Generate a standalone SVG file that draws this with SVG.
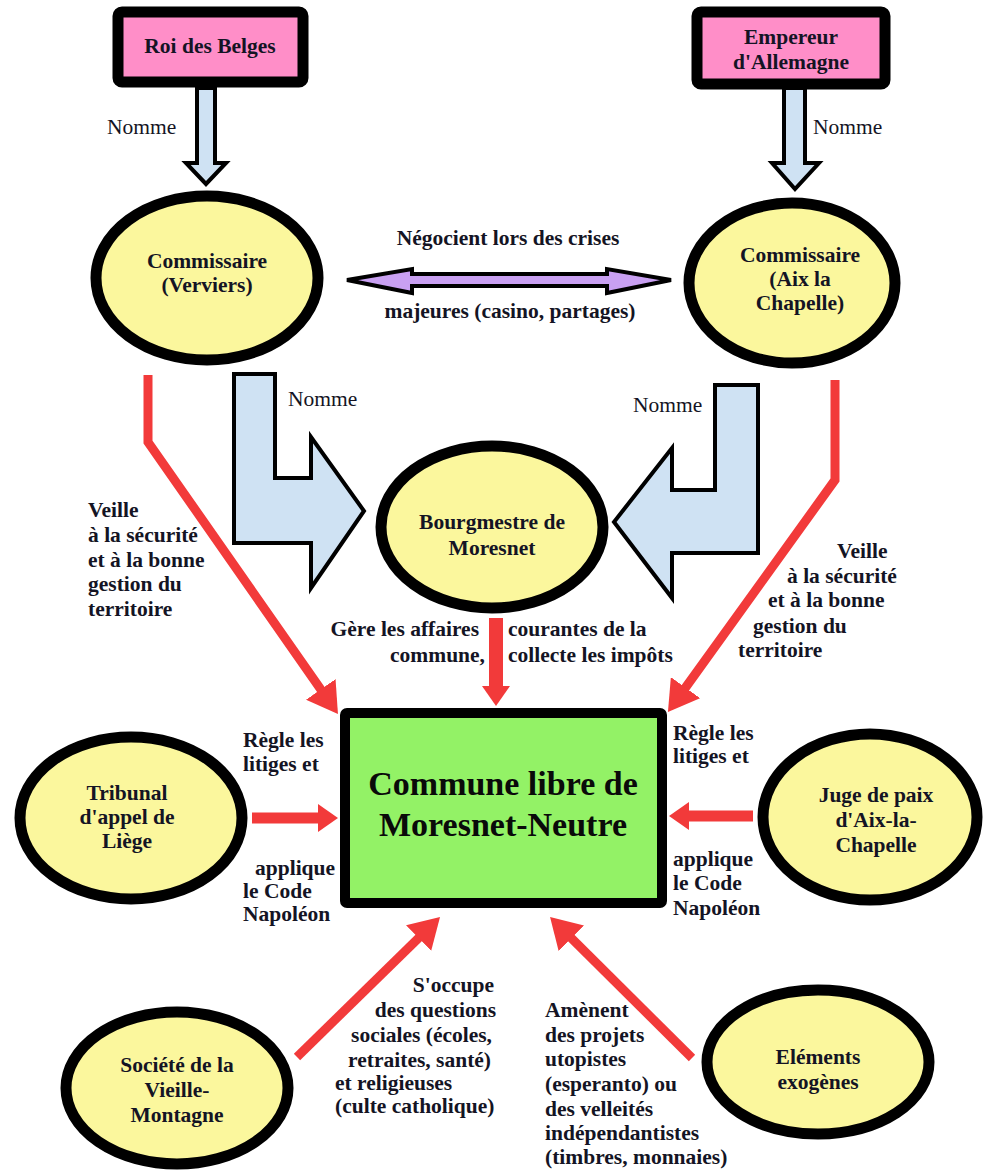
<svg xmlns="http://www.w3.org/2000/svg" width="984" height="1175" viewBox="0 0 984 1175">
<defs>
<style>
.t{font-family:"Liberation Serif","Times New Roman",serif;font-weight:bold;font-size:21.5px;fill:#141424}
.r{font-family:"Liberation Serif","Times New Roman",serif;font-size:21.5px;fill:#141424}
.m{text-anchor:middle}
.e{text-anchor:end}
.title{font-family:"Liberation Serif","Times New Roman",serif;font-weight:bold;font-size:34px;fill:#0a0a0a;text-anchor:middle}
.ell{fill:#fbf79d;stroke:#000;stroke-width:11}
.box{fill:#ff8ec8;stroke:#000;stroke-width:11}
.blue{fill:#cfe2f3;stroke:#000;stroke-width:4;stroke-linejoin:miter}
.red{fill:none;stroke:#f23a3a;stroke-linejoin:miter}
</style>
<marker id="hb" viewBox="0 0 30 36" markerWidth="30" markerHeight="36" refX="14" refY="18" orient="auto" markerUnits="userSpaceOnUse">
<path d="M0,0 L30,18 L0,36 z" fill="#f23a3a"/>
</marker>
<marker id="hs" viewBox="0 0 20 28" markerWidth="20" markerHeight="28" refX="8" refY="14" orient="auto" markerUnits="userSpaceOnUse">
<path d="M0,0 L20,14 L0,28 z" fill="#f23a3a"/>
</marker>
</defs>
<rect width="984" height="1175" fill="#fff"/>

<g id="connectors">
<polygon class="blue" points="197,88 215,88 215,163 226,163 206,184 186,163 197,163"/>
<polygon class="blue" points="784,88 805,88 805,163 819,163 795,189 772,163 784,163"/>
<polygon points="347,280 412,269 412,274 607,274 607,269 671,280 607,293 607,286 412,286 412,293" fill="#c9a0f2" stroke="#000" stroke-width="4"/>
<polygon class="blue" points="234,374 275,374 275,478 311,478 311,437 364,511 311,588 311,543 234,543"/>
<polygon class="blue" points="758,385 715,385 715,490 672,490 672,448 614,522 672,598 672,553 758,553"/>
<polyline class="red" stroke-width="9" points="148,375 148,442 328.8,700.9" marker-end="url(#hb)"/>
<polyline class="red" stroke-width="9" points="835,380 835,480 677.3,699" marker-end="url(#hb)"/>
<line class="red" stroke-width="14" x1="496" y1="618" x2="496" y2="694" marker-end="url(#hs)"/>
<line class="red" stroke-width="11" x1="252" y1="818" x2="326" y2="818" marker-end="url(#hs)"/>
<line class="red" stroke-width="11" x1="753" y1="816" x2="681" y2="816" marker-end="url(#hs)"/>
<line class="red" stroke-width="9" x1="297" y1="1057" x2="428.6" y2="928.2" marker-end="url(#hb)"/>
<line class="red" stroke-width="9" x1="692" y1="1058" x2="561.4" y2="928.3" marker-end="url(#hb)"/>
</g>

<g id="labels">
<text class="r" x="107" y="134">Nomme</text>
<text class="r" x="813" y="134">Nomme</text>
<text class="t m" x="508" y="245">Négocient lors des crises</text>
<text class="t m" x="510" y="318">majeures (casino, partages)</text>
<text class="r" x="288" y="406">Nomme</text>
<text class="r" x="633" y="412">Nomme</text>
<text class="t" x="88" y="517">Veille</text>
<text class="t" x="88" y="542">à la sécurité</text>
<text class="t" x="88" y="567">et à la bonne</text>
<text class="t" x="88" y="591">gestion du</text>
<text class="t" x="88" y="616">territoire</text>
<text class="t" x="837" y="558">Veille</text>
<text class="t" x="787" y="583">à la sécurité</text>
<text class="t" x="768" y="607">et à la bonne</text>
<text class="t" x="753" y="633">gestion du</text>
<text class="t" x="738" y="657">territoire</text>
<text class="t e" x="479" y="636">Gère les affaires</text>
<text class="t e" x="485" y="662">commune,</text>
<text class="t" x="508" y="636">courantes de la</text>
<text class="t" x="508" y="662">collecte les impôts</text>
<text class="t" x="243" y="747">Règle les</text>
<text class="t" x="243" y="771">litiges et</text>
<text class="t" x="255" y="875">applique</text>
<text class="t" x="243" y="898">le Code</text>
<text class="t" x="243" y="921">Napoléon</text>
<text class="t" x="673" y="740">Règle les</text>
<text class="t" x="673" y="763">litiges et</text>
<text class="t" x="673" y="866">applique</text>
<text class="t" x="673" y="890">le Code</text>
<text class="t" x="673" y="915">Napoléon</text>
<text class="t e" x="494" y="992">S'occupe</text>
<text class="t e" x="496" y="1017">des questions</text>
<text class="t e" x="492" y="1042">sociales (écoles,</text>
<text class="t e" x="491" y="1067">retraites, santé)</text>
<text class="t" x="335" y="1090">et religieuses</text>
<text class="t" x="335" y="1113">(culte catholique)</text>
<text class="t" x="545" y="1017">Amènent</text>
<text class="t" x="545" y="1042">des projets</text>
<text class="t" x="545" y="1066">utopistes</text>
<text class="t" x="545" y="1091">(esperanto) ou</text>
<text class="t" x="545" y="1116">des velleités</text>
<text class="t" x="545" y="1140">indépendantistes</text>
<text class="t" x="545" y="1164">(timbres, monnaies)</text>
</g>

<g id="roi">
<rect class="box" x="118" y="12" width="185" height="70" rx="4"/>
<text class="t m" x="210" y="53">Roi des Belges</text>
</g>
<g id="empereur">
<rect class="box" x="697" y="12" width="188" height="72" rx="4"/>
<text class="t m" x="791" y="44">Empereur</text>
<text class="t m" x="791" y="69">d'Allemagne</text>
</g>
<g id="commissaire-verviers">
<ellipse class="ell" cx="207" cy="278" rx="111" ry="82"/>
<text class="t m" x="207" y="268">Commissaire</text>
<text class="t m" x="207" y="292">(Verviers)</text>
</g>
<g id="commissaire-aix">
<ellipse class="ell" cx="792" cy="283" rx="103" ry="80"/>
<text class="t m" x="800" y="262">Commissaire</text>
<text class="t m" x="800" y="286">(Aix la</text>
<text class="t m" x="800" y="310">Chapelle)</text>
</g>
<g id="bourgmestre">
<ellipse class="ell" cx="492" cy="527" rx="111" ry="81"/>
<text class="t m" x="492" y="529">Bourgmestre de</text>
<text class="t m" x="492" y="555">Moresnet</text>
</g>
<g id="commune">
<rect x="345" y="713" width="317" height="190" fill="#93f266" stroke="#000" stroke-width="10" rx="2"/>
<text class="title" x="503" y="795">Commune libre de</text>
<text class="title" x="503" y="836">Moresnet-Neutre</text>
</g>
<g id="tribunal">
<ellipse class="ell" cx="131" cy="818" rx="111" ry="81"/>
<text class="t m" x="127" y="800">Tribunal</text>
<text class="t m" x="127" y="824">d'appel de</text>
<text class="t m" x="127" y="848">Liège</text>
</g>
<g id="juge">
<ellipse class="ell" cx="870" cy="817" rx="107" ry="83"/>
<text class="t m" x="876" y="802">Juge de paix</text>
<text class="t m" x="876" y="827">d'Aix-la-</text>
<text class="t m" x="876" y="852">Chapelle</text>
</g>
<g id="societe">
<ellipse class="ell" cx="177" cy="1088" rx="111" ry="76"/>
<text class="t m" x="177" y="1072">Société de la</text>
<text class="t m" x="177" y="1097">Vieille-</text>
<text class="t m" x="177" y="1122">Montagne</text>
</g>
<g id="elements">
<ellipse class="ell" cx="818" cy="1062" rx="111" ry="72"/>
<text class="t m" x="818" y="1064">Eléments</text>
<text class="t m" x="818" y="1089">exogènes</text>
</g>
</svg>
